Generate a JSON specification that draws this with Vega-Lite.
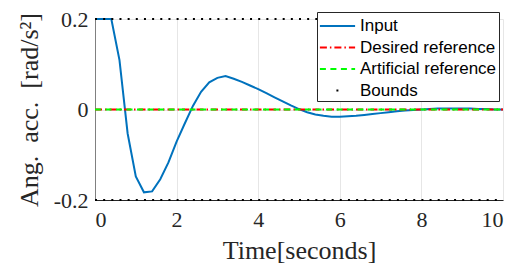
{
  "$schema": "https://vega.github.io/schema/vega-lite/v6.json",
  "autosize": "none",
  "width": 408,
  "height": 181,
  "padding": {"left": 95, "top": 19, "right": 13, "bottom": 67},
  "background": "white",
  "config": {
    "view": {"stroke": null},
    "axis": {"labelFont": "Liberation Serif", "titleFont": "Liberation Serif", "titleFontWeight": "normal", "labelColor": "#262626", "titleColor": "#262626", "gridColor": "#e6e6e6", "gridWidth": 1}
  },
  "datasets": {
    "input": [
      {"t": 0, "v": 0.2, "series": "Input"}, {"t": 0.2, "v": 0.2, "series": "Input"}, {"t": 0.4, "v": 0.2, "series": "Input"}, {"t": 0.6, "v": 0.109, "series": "Input"},
      {"t": 0.8, "v": -0.053, "series": "Input"}, {"t": 1.0, "v": -0.148, "series": "Input"}, {"t": 1.2, "v": -0.183, "series": "Input"}, {"t": 1.4, "v": -0.181, "series": "Input"},
      {"t": 1.6, "v": -0.154, "series": "Input"}, {"t": 1.8, "v": -0.117, "series": "Input"}, {"t": 2.0, "v": -0.071, "series": "Input"}, {"t": 2.2, "v": -0.031, "series": "Input"},
      {"t": 2.4, "v": 0.008, "series": "Input"}, {"t": 2.6, "v": 0.039, "series": "Input"}, {"t": 2.8, "v": 0.06, "series": "Input"}, {"t": 3.0, "v": 0.07, "series": "Input"},
      {"t": 3.2, "v": 0.074, "series": "Input"}, {"t": 3.4, "v": 0.068, "series": "Input"}, {"t": 3.6, "v": 0.061, "series": "Input"}, {"t": 3.8, "v": 0.053, "series": "Input"},
      {"t": 4.0, "v": 0.045, "series": "Input"}, {"t": 4.2, "v": 0.036, "series": "Input"}, {"t": 4.4, "v": 0.027, "series": "Input"}, {"t": 4.6, "v": 0.018, "series": "Input"},
      {"t": 4.8, "v": 0.009, "series": "Input"}, {"t": 5.0, "v": 0.001, "series": "Input"}, {"t": 5.2, "v": -0.006, "series": "Input"}, {"t": 5.4, "v": -0.011, "series": "Input"},
      {"t": 5.6, "v": -0.014, "series": "Input"}, {"t": 5.8, "v": -0.016, "series": "Input"}, {"t": 6.0, "v": -0.016, "series": "Input"}, {"t": 6.2, "v": -0.015, "series": "Input"},
      {"t": 6.4, "v": -0.014, "series": "Input"}, {"t": 6.6, "v": -0.012, "series": "Input"}, {"t": 6.8, "v": -0.01, "series": "Input"}, {"t": 7.0, "v": -0.008, "series": "Input"},
      {"t": 7.2, "v": -0.006, "series": "Input"}, {"t": 7.4, "v": -0.004, "series": "Input"}, {"t": 7.6, "v": -0.002, "series": "Input"}, {"t": 7.8, "v": -0.001, "series": "Input"},
      {"t": 8.0, "v": 0, "series": "Input"}, {"t": 8.2, "v": 0.001, "series": "Input"}, {"t": 8.4, "v": 0.002, "series": "Input"}, {"t": 8.6, "v": 0.002, "series": "Input"},
      {"t": 8.8, "v": 0.002, "series": "Input"}, {"t": 9.0, "v": 0.002, "series": "Input"}, {"t": 9.2, "v": 0.002, "series": "Input"}, {"t": 9.4, "v": 0.001, "series": "Input"},
      {"t": 9.6, "v": 0.001, "series": "Input"}, {"t": 9.8, "v": 0, "series": "Input"}, {"t": 10, "v": 0, "series": "Input"}
    ],
    "desired": [{"t": 0, "v": 0, "series": "Desired reference"}, {"t": 10, "v": 0, "series": "Desired reference"}],
    "artificial": [{"t": 0, "v": 0, "series": "Artificial reference"}, {"t": 10, "v": 0, "series": "Artificial reference"}],
    "bounds": [
      {"t": 0, "v": 0.2, "g": "upper", "series": "Bounds"}, {"t": 10, "v": 0.2, "g": "upper", "series": "Bounds"},
      {"t": 0, "v": -0.2, "g": "lower", "series": "Bounds"}, {"t": 10, "v": -0.2, "g": "lower", "series": "Bounds"}
    ]
  },
  "encoding": {
    "x": {
      "field": "t", "type": "quantitative",
      "scale": {"domain": [0, 10], "nice": false, "zero": false},
      "axis": {
        "values": [0, 2, 4, 6, 8, 10], "title": "Time[seconds]",
        "labelFontSize": 22, "titleFontSize": 26, "labelPadding": 9,
        "tickSize": 0, "domainColor": "#262626", "domainWidth": 1,
        "titleBaseline": "alphabetic", "titleY": 58
      }
    },
    "y": {
      "field": "v", "type": "quantitative",
      "scale": {"domain": [-0.2, 0.2], "nice": false},
      "axis": {
        "values": [-0.2, 0, 0.2], "title": "Ang.\u00a0 acc.\u00a0 [rad/s²]",
        "labelExpr": "datum.value < -0.1 ? '-0.2' : datum.value > 0.1 ? '0.2' : '0'",
        "labelFontSize": 22, "titleFontSize": 26, "labelPadding": 7,
        "tickSize": 0, "domainColor": "#808080", "domainWidth": 1,
        "titleAngle": -90, "titleBaseline": "alphabetic", "titleX": -58, "titleY": 90.5
      }
    },
    "color": {
      "field": "series", "type": "nominal",
      "scale": {
        "domain": ["Input", "Desired reference", "Artificial reference", "Bounds"],
        "range": ["#0072BD", "#FF0000", "#00FF00", "#000000"]
      },
      "legend": {
        "title": null, "orient": "none", "legendX": 222, "legendY": -7,
        "direction": "vertical",
        "fillColor": "white", "strokeColor": "#262626",
        "padding": 2, "symbolType": "M-1.6,0H1.6", "symbolSize": 484, "symbolStrokeWidth": 2,
        "labelFont": "Liberation Sans", "labelFontSize": 17, "labelColor": "#000000",
        "labelOffset": 17, "rowPadding": 1.5, "labelLimit": 300,
        "encode": {
          "symbols": {
            "update": {
              "x": {"value": 18.5},
              "strokeDash": {"signal": "datum.label === 'Bounds' ? [2, 100] : datum.label === 'Desired reference' ? [7, 3, 1.5, 3] : datum.label === 'Artificial reference' ? [6, 4.5] : [1, 0]"},
              "strokeDashOffset": {"signal": "datum.label === 'Bounds' ? -16.5 : 0"}
            }
          }
        }
      }
    }
  },
  "layer": [
    {
      "data": {"name": "input"},
      "mark": {"type": "line", "strokeWidth": 2},
      "encoding": {"order": {"field": "t", "type": "quantitative"}}
    },
    {
      "data": {"name": "desired"},
      "mark": {"type": "line", "strokeWidth": 2, "strokeDash": [7, 3, 1.5, 3]},
      "encoding": {}
    },
    {
      "data": {"name": "artificial"},
      "mark": {"type": "line", "strokeWidth": 2, "strokeDash": [6, 4.5]},
      "encoding": {}
    },
    {
      "data": {"name": "bounds"},
      "mark": {"type": "line", "strokeWidth": 2, "strokeDash": [2, 6.16]},
      "encoding": {"detail": {"field": "g", "type": "nominal"}}
    }
  ]
}
